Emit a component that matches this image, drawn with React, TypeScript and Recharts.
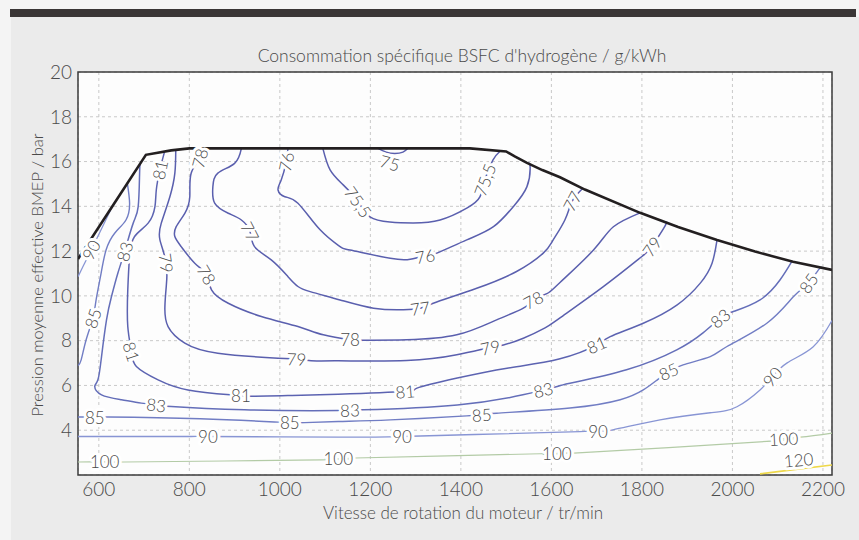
import React from 'react';
import { ComposedChart, Line, Scatter, XAxis, YAxis, CartesianGrid, ReferenceArea } from 'recharts';

// ---------- axes ----------
const X_DOMAIN = [554, 2220];
const Y_DOMAIN = [2, 20];
const X_TICKS = [600, 800, 1000, 1200, 1400, 1600, 1800, 2000, 2200];
const Y_TICKS = [4, 6, 8, 10, 12, 14, 16, 18, 20];

const TITLE = "Consommation spécifique BSFC d'hydrogène / g/kWh";
const X_LABEL = 'Vitesse de rotation du moteur / tr/min';
const Y_LABEL = 'Pression moyenne effective BMEP / bar';

// ---------- full-load curve [rpm, bar] ----------
const FULL_LOAD = [
  [554, 11.65], [630, 14.0], [704, 16.3], [760, 16.5], [800, 16.59], [1420, 16.59], [1500, 16.45],
  [1520, 16.22], [1546, 15.94], [1580, 15.62], [1619, 15.3], [1674, 14.75], [1796, 13.71], [1880, 13.08],
  [1966, 12.5], [2050, 11.98], [2134, 11.52], [2220, 11.16],
];

// ---------- iso-BSFC contours [rpm, bar] ----------
const C75 = [[1217, 16.59], [1235, 16.42], [1254, 16.36], [1272, 16.42], [1283, 16.59]];
const C75_5 = [
  [1095, 16.59], [1111, 15.63], [1140, 14.96], [1173, 14.2], [1199, 13.53], [1243, 13.3], [1294, 13.26],
  [1354, 13.39], [1414, 13.93], [1442, 14.42], [1453, 15.18], [1471, 16.07], [1487, 16.47],
];
const C76 = [
  [1018, 16.59], [1014, 15.99], [1003, 15.18], [996, 14.73], [1011, 14.43], [1040, 14.14], [1089, 12.95],
  [1133, 12.2], [1155, 12.05], [1244, 11.68], [1288, 11.64], [1321, 11.78], [1347, 11.91], [1413, 12.5],
  [1472, 13.09], [1516, 13.99], [1546, 14.88], [1553, 15.77], [1549, 15.92],
];
const C77 = [
  [915, 16.59], [900, 15.92], [863, 15.48], [852, 14.88], [856, 14.14], [886, 13.69], [915, 13.39],
  [934, 12.87], [944, 12.2], [981, 11.61], [1018, 10.86], [1040, 10.42], [1067, 10.19], [1133, 9.82],
  [1207, 9.45], [1273, 9.38], [1310, 9.45], [1339, 9.67], [1435, 10.34], [1523, 11.09], [1582, 11.91],
  [1604, 12.5], [1630, 13.4], [1646, 14.23], [1670, 14.82],
];
const C78 = [
  [818, 16.59], [823, 16.15], [804, 15.48], [801, 14.43], [790, 13.69], [771, 13.09], [768, 12.65],
  [782, 12.2], [812, 11.46], [838, 10.94], [849, 10.27], [886, 9.67], [959, 9.08], [1040, 8.63],
  [1096, 8.26], [1155, 8.04], [1184, 8.02], [1280, 8.04], [1391, 8.26], [1479, 8.93], [1538, 9.45],
  [1560, 9.82], [1590, 10.1], [1619, 10.6], [1693, 12.05], [1737, 13.09], [1796, 13.71],
];
const C79 = [
  [770, 16.5], [768, 15.48], [757, 14.43], [738, 13.25], [735, 12.5], [749, 11.46], [749, 10.42],
  [746, 9.52], [753, 8.63], [790, 7.89], [863, 7.44], [996, 7.22], [1037, 7.18], [1069, 7.1],
  [1129, 7.1], [1280, 7.11], [1391, 7.37], [1465, 7.7], [1494, 7.81], [1538, 8.11], [1586, 8.57],
  [1619, 9.02], [1714, 10.4], [1800, 11.76], [1822, 12.2], [1848, 13.02], [1855, 13.32],
];
const C81 = [
  [745, 16.42], [735, 15.63], [727, 14.73], [724, 13.99], [709, 13.25], [679, 12.65], [668, 11.76],
  [664, 10.27], [664, 8.63], [672, 7.51], [683, 6.85], [731, 6.25], [797, 5.8], [892, 5.58], [914, 5.54],
  [945, 5.52], [1023, 5.55], [1129, 5.61], [1277, 5.73], [1303, 5.88], [1392, 6.33], [1502, 6.77],
  [1619, 7.19], [1700, 7.81], [1730, 8.18], [1803, 8.78], [1878, 9.6], [1929, 10.57], [1955, 11.46],
  [1966, 12.5],
];
const C83 = [
  [691, 15.85], [690, 15.4], [687, 13.99], [676, 13.25], [657, 11.98], [642, 11.01], [628, 9.97],
  [617, 8.93], [606, 7.29], [598, 6.25], [591, 5.95], [606, 5.58], [650, 5.36], [694, 5.21], [727, 5.13],
  [760, 5.06], [922, 4.91], [1129, 4.88], [1155, 4.9], [1184, 4.91], [1392, 5.13], [1537, 5.58],
  [1582, 5.8], [1613, 5.95], [1641, 6.1], [1766, 6.7], [1877, 7.59], [1935, 8.35], [1973, 9.0],
  [2002, 9.3], [2061, 9.82], [2105, 10.71], [2131, 11.53],
];
const C85_LEFT = [
  [663, 15.03], [668, 14.14], [660, 13.39], [635, 12.8], [616, 12.05], [605, 11.01], [594, 9.82],
  [587, 9.0], [572, 8.04], [561, 7.14], [554, 6.88],
];
const C85 = [
  [554, 4.59], [591, 4.59], [620, 4.59], [824, 4.51], [996, 4.36], [1022, 4.34], [1055, 4.34],
  [1129, 4.39], [1244, 4.46], [1413, 4.64], [1446, 4.69], [1479, 4.76], [1641, 4.99], [1752, 5.36],
  [1803, 5.8], [1834, 6.25], [1859, 6.62], [1891, 6.92], [1951, 7.29], [1988, 7.74], [2076, 8.78],
  [2135, 9.97], [2168, 10.57], [2190, 11.16], [2198, 11.28],
];
const C90_LEFT = [[630, 14.0], [594, 12.5], [583, 12.05], [565, 11.31], [554, 10.86]];
const C90 = [
  [554, 3.72], [804, 3.72], [841, 3.72], [1129, 3.69], [1270, 3.72], [1487, 3.84], [1663, 3.94],
  [1703, 3.96], [1736, 4.02], [1840, 4.46], [1951, 4.78], [2010, 5.05], [2061, 5.8], [2088, 6.38],
  [2121, 7.01], [2178, 7.72], [2220, 8.9],
];
const C100 = [
  [554, 2.58], [613, 2.6], [657, 2.58], [1092, 2.68], [1129, 2.72], [1166, 2.76], [1575, 2.95],
  [1612, 2.97], [1649, 2.98], [2076, 3.5], [2113, 3.62], [2150, 3.69], [2220, 3.87],
];
const C120 = [[2061, 2.05], [2140, 2.25], [2220, 2.45]];

// ---------- contour labels [text, rpm, bar, angle] ----------
const LABELS: [string, number, number, number][] = [
  ['75', 1243, 15.94, 15],
  ['75,5', 1173, 14.2, 55], ['75,5', 1453, 15.18, -70],
  ['76', 1014, 15.99, -78], ['76', 1321, 11.78, -10],
  ['77', 934, 12.87, 63], ['77', 1310, 9.45, -8], ['77', 1646, 14.23, -62],
  ['78', 823, 16.15, -75], ['78', 838, 10.94, 60], ['78', 1155, 8.04, 0], ['78', 1560, 9.82, -28],
  ['79', 749, 11.46, 82], ['79', 1037, 7.18, 2], ['79', 1465, 7.7, -12], ['79', 1822, 12.2, -55],
  ['81', 735, 15.63, -78], ['81', 672, 7.51, 72], ['81', 914, 5.54, 0], ['81', 1277, 5.73, -5], ['81', 1700, 7.81, -24],
  ['83', 657, 11.98, -75], ['83', 727, 5.13, 6], ['83', 1155, 4.9, -2], ['83', 1582, 5.8, -14], ['83', 1973, 9.0, -40],
  ['85', 587, 9.0, -72], ['85', 591, 4.59, 0], ['85', 1022, 4.34, 0], ['85', 1446, 4.69, -4], ['85', 1859, 6.62, -25], ['85', 2168, 10.57, -55],
  ['90', 583, 12.05, -62], ['90', 841, 3.72, 0], ['90', 1270, 3.72, 0], ['90', 1703, 3.96, 0], ['90', 2088, 6.38, -50],
  ['100', 613, 2.6, 0], ['100', 1129, 2.72, 0], ['100', 1612, 2.97, 0], ['100', 2113, 3.62, -3],
  ['120', 2146, 2.68, -5],
];

const DARK = '#5a5fae';
const CONTOURS: { id: string; pts: number[][]; color: string; w: number }[] = [
  { id: 'c75', pts: C75, color: DARK, w: 1.5 },
  { id: 'c75_5', pts: C75_5, color: DARK, w: 1.5 },
  { id: 'c76', pts: C76, color: DARK, w: 1.5 },
  { id: 'c77', pts: C77, color: DARK, w: 1.5 },
  { id: 'c78', pts: C78, color: DARK, w: 1.5 },
  { id: 'c79', pts: C79, color: DARK, w: 1.5 },
  { id: 'c81', pts: C81, color: '#5c63b1', w: 1.5 },
  { id: 'c83', pts: C83, color: '#646eb9', w: 1.5 },
  { id: 'c85l', pts: C85_LEFT, color: '#717dc4', w: 1.4 },
  { id: 'c85', pts: C85, color: '#717dc4', w: 1.4 },
  { id: 'c90l', pts: C90_LEFT, color: '#8895d4', w: 1.3 },
  { id: 'c90', pts: C90, color: '#8895d4', w: 1.3 },
  { id: 'c100', pts: C100, color: '#b3cba6', w: 1.2 },
  { id: 'c120', pts: C120, color: '#eed84a', w: 1.6 },
];

const toRows = (pts: number[][]) => pts.map(([r, p]) => ({ r, p }));
const labelRows = LABELS.map(([t, r, p, a]) => ({ t, r, p, a }));

const FONT = 'Lato, "Open Sans", sans-serif';
const TEXT = '#4a4a4a';

const LabelShape = (props: any) => {
  const { cx, cy, payload } = props;
  if (cx == null || cy == null) return null;
  return (
    <text
      x={cx}
      y={cy}
      transform={`rotate(${payload.a} ${cx} ${cy})`}
      textAnchor="middle"
      dominantBaseline="central"
      fontSize={17}
      fontWeight={300}
      fontFamily={FONT}
      fill={TEXT}
      stroke="#ffffff"
      strokeWidth={6}
      strokeLinejoin="round"
      style={{ paintOrder: 'stroke' }}
    >
      {payload.t}
    </text>
  );
};

export default function App() {
  return (
    <div style={{ position: 'absolute', left: 0, top: 0, width: 859, height: 540, background: '#f4f4f4', overflow: 'hidden', fontFamily: FONT, fontWeight: 300 }}>
      <div style={{ position: 'absolute', left: 11, top: 17, width: 848, height: 523, background: '#ebebeb' }} />
      <div style={{ position: 'absolute', left: 10, top: 9, width: 846, height: 8, background: '#3a3636' }} />
      <div style={{ position: 'absolute', left: 0, top: 0 }}>
        <ComposedChart width={859} height={540} margin={{ top: 72, right: 27, bottom: 35, left: 18 }}>
          <CartesianGrid fill="#fdfdfd" stroke="#c9c9c9" strokeDasharray="3 3" />
          <XAxis
            type="number"
            dataKey="r"
            domain={X_DOMAIN}
            ticks={X_TICKS}
            allowDataOverflow
            tickLine={false}
            axisLine={false}
            height={30}
            tick={{ fill: TEXT, fontSize: 19, fontFamily: FONT, fontWeight: 300 }}
          />
          <YAxis
            type="number"
            dataKey="p"
            domain={Y_DOMAIN}
            ticks={Y_TICKS}
            allowDataOverflow
            tickLine={false}
            axisLine={false}
            width={60}
            tickMargin={0}
            tick={{ fill: TEXT, fontSize: 19, fontFamily: FONT, fontWeight: 300 }}
          />
          {CONTOURS.map((c) => (
            <Line
              key={c.id}
              data={toRows(c.pts)}
              dataKey="p"
              type="natural"
              stroke={c.color}
              strokeWidth={c.w}
              dot={false}
              activeDot={false}
              isAnimationActive={false}
              legendType="none"
            />
          ))}
          <Line
            data={toRows(FULL_LOAD)}
            dataKey="p"
            type="linear"
            stroke="#231f20"
            strokeWidth={2.6}
            dot={false}
            activeDot={false}
            isAnimationActive={false}
            legendType="none"
          />
          <ReferenceArea x1={X_DOMAIN[0]} x2={X_DOMAIN[1]} y1={Y_DOMAIN[0]} y2={Y_DOMAIN[1]} fill="none" stroke="#3c3c3c" strokeWidth={1.5} ifOverflow="visible" />
          <Scatter data={labelRows} dataKey="p" shape={LabelShape} isAnimationActive={false} legendType="none" />
        </ComposedChart>
      </div>
      <div style={{ position: 'absolute', left: 462, top: 45, transform: 'translateX(-50%)', whiteSpace: 'nowrap', fontSize: 17.5, color: TEXT }}>{TITLE}</div>
      <div style={{ position: 'absolute', left: 463, top: 502, transform: 'translateX(-50%)', whiteSpace: 'nowrap', fontSize: 17, color: TEXT }}>{X_LABEL}</div>
      <div style={{ position: 'absolute', left: 37, top: 275, transform: 'translate(-50%, -50%) rotate(-90deg)', whiteSpace: 'nowrap', fontSize: 16.5, color: TEXT }}>{Y_LABEL}</div>
    </div>
  );
}
